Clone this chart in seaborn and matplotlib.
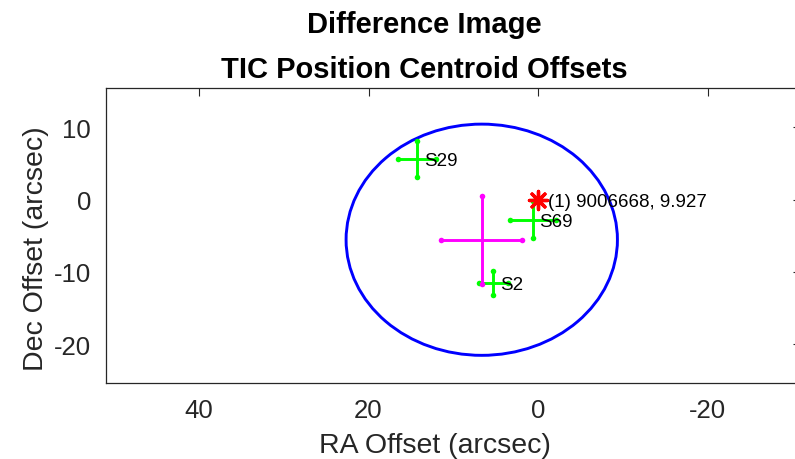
import numpy as np
import pandas as pd
import matplotlib
matplotlib.use("Agg")
import matplotlib.pyplot as plt
import seaborn as sns
from matplotlib.patches import Circle

# ---- data ----
sectors = ["S2", "S29", "S69"]
ra_off = [5.27, 14.28, 0.63]
dec_off = [-11.52, 5.63, -2.77]
ra_err = [1.69, 2.29, 2.68]
dec_err = [1.66, 2.49, 2.58]

mean_ra = [6.65]
mean_dec = [-5.55]
mean_ra_err = [4.80]
mean_dec_err = [6.11]
circle_radius = 16.0

tic_ra = [0.0]
tic_dec = [0.0]
tic_labels = ["(1) 9006668, 9.927"]

x_ticks = [40, 20, 0, -20]
y_ticks = [10, 0, -10, -20]
x_limits = (51.0, -31.0)
y_limits = (-25.42, 15.45)
title_lines = ["Difference Image", "TIC Position Centroid Offsets"]
x_label = "RA Offset (arcsec)"
y_label = "Dec Offset (arcsec)"

# ---- style ----
sns.set_theme(style="white")
plt.rcParams["font.family"] = ["Liberation Sans", "DejaVu Sans"]
INK = "#262626"

W, H = 795, 460
fig = plt.figure(figsize=(W / 100, H / 100), dpi=100)
ax_l, ax_r, ax_t, ax_b = 105.7, 801.0, 89.0, 384.3
ax = fig.add_axes([ax_l / W, 1 - ax_b / H, (ax_r - ax_l) / W, (ax_b - ax_t) / H])

# circle around the mean centroid
circ = Circle((mean_ra[0], mean_dec[0]), circle_radius, fill=False,
              edgecolor="#0000ff", linewidth=2.1, zorder=2)
ax.add_patch(circ)

def cross(xs, ys, xe, ye, color, z):
    ax.errorbar(xs, ys, xerr=xe, yerr=ye, fmt="none", ecolor=color,
                elinewidth=2.1, capsize=0, zorder=z)
    ends = pd.DataFrame({
        "ra": list(np.array(xs) - np.array(xe)) + list(np.array(xs) + np.array(xe))
              + list(xs) + list(xs),
        "dec": list(ys) + list(ys) + list(np.array(ys) - np.array(ye))
               + list(np.array(ys) + np.array(ye)),
    })
    sns.scatterplot(data=ends, x="ra", y="dec", color=color, s=16,
                    linewidth=0, ax=ax, legend=False, zorder=z + 0.1)

cross(ra_off, dec_off, ra_err, dec_err, "#00ff00", 3)
cross(mean_ra, mean_dec, mean_ra_err, mean_dec_err, "#ff00ff", 4)

# TIC position
stars = pd.DataFrame({"ra": tic_ra, "dec": tic_dec})
sns.scatterplot(data=stars, x="ra", y="dec", marker=(8, 2, 0), s=170,
                color="#ff0000", edgecolor="#ff0000", linewidth=2.4,
                ax=ax, legend=False, zorder=6)

for lab, x, y in zip(sectors, ra_off, dec_off):
    ax.annotate(lab, (x, y), xytext=(4.8, 0), textcoords="offset points",
                ha="left", va="center_baseline", fontsize=13.5, color="black",
                zorder=7)
for lab, x, y in zip(tic_labels, tic_ra, tic_dec):
    ax.annotate(lab, (x, y), xytext=(7.0, 0), textcoords="offset points",
                ha="left", va="center_baseline", fontsize=13.5, color="black",
                zorder=7)

ax.set_xlim(*x_limits)
ax.set_ylim(*y_limits)
ax.set_xticks(x_ticks)
ax.set_yticks(y_ticks)
ax.set_xticklabels([str(t) for t in x_ticks])
ax.set_yticklabels([str(t) for t in y_ticks])
ax.tick_params(direction="in", length=6, width=0.8, top=True, right=True,
               labelsize=18.5, pad=10.5, colors=INK, labelcolor=INK)
for sp in ax.spines.values():
    sp.set_color(INK)
    sp.set_linewidth(0.9)
    sp.set_visible(True)

ax.set_xlabel(x_label, fontsize=20.5, color=INK)
ax.set_ylabel(y_label, fontsize=20.5, color=INK)
ax.xaxis.label.set_verticalalignment("baseline")
ax.xaxis.set_label_coords(435 / W, 1 - 453.3 / H, transform=fig.transFigure)
ax.yaxis.label.set_rotation_mode("anchor")
ax.yaxis.label.set_verticalalignment("baseline")
ax.yaxis.set_label_coords(43.3 / W, 1 - 249 / H, transform=fig.transFigure)

fig.text(424 / W, 1 - 33.3 / H, title_lines[0], ha="center", va="baseline",
         fontsize=21, fontweight="bold", color="black")
fig.text(424 / W, 1 - 78.3 / H, title_lines[1], ha="center", va="baseline",
         fontsize=21, fontweight="bold", color="black")

fig.savefig("out.png", dpi=100, facecolor="white")
